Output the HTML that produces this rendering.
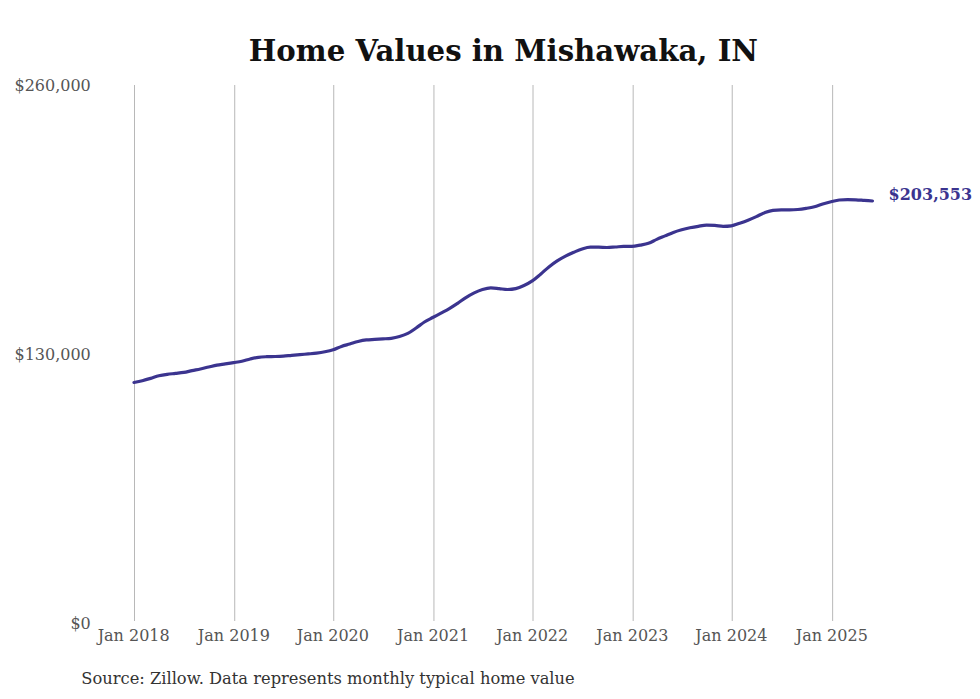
<!DOCTYPE html>
<html><head><meta charset="utf-8"><style>
html,body{margin:0;padding:0;background:#fff;width:980px;height:699px;overflow:hidden;}
svg{display:block;}
.t{font-family:"DejaVu Serif","Liberation Serif",serif;font-weight:bold;font-size:29.2px;fill:#111;}
.yl{font-family:"DejaVu Serif","Liberation Serif",serif;font-size:16px;fill:#555;}
.xl{font-family:"DejaVu Serif","Liberation Serif",serif;font-size:16px;fill:#555;}
.src{font-family:"DejaVu Serif","Liberation Serif",serif;font-size:16.3px;fill:#333;}
.val{font-family:"DejaVu Serif","Liberation Serif",serif;font-weight:bold;font-size:16px;fill:#3b348f;}
.g line{stroke:#b8b8b8;stroke-width:1;}
</style></head><body>
<svg width="980" height="699" viewBox="0 0 980 699">
<rect width="980" height="699" fill="#fff"/>
<text class="t" x="503.4" y="60.7" text-anchor="middle">Home Values in Mishawaka, IN</text>
<g class="g">
<line x1="134.50" y1="85" x2="134.50" y2="621" />
<line x1="234.73" y1="85" x2="234.73" y2="621" />
<line x1="333.74" y1="85" x2="333.74" y2="621" />
<line x1="433.94" y1="85" x2="433.94" y2="621" />
<line x1="533.00" y1="85" x2="533.00" y2="621" />
<line x1="633.17" y1="85" x2="633.17" y2="621" />
<line x1="732.23" y1="85" x2="732.23" y2="621" />
<line x1="832.63" y1="85" x2="832.63" y2="621" />
</g>
<g class="yl" text-anchor="end">
<text x="90.8" y="90.9">$260,000</text>
<text x="90.8" y="360.1">$130,000</text>
<text x="90.8" y="629.1">$0</text>
</g>
<g class="xl" text-anchor="middle">
<text x="133.7" y="640.6">Jan 2018</text>
<text x="233.9" y="640.6">Jan 2019</text>
<text x="332.9" y="640.6">Jan 2020</text>
<text x="433.1" y="640.6">Jan 2021</text>
<text x="532.2" y="640.6">Jan 2022</text>
<text x="632.4" y="640.6">Jan 2023</text>
<text x="731.4" y="640.6">Jan 2024</text>
<text x="831.8" y="640.6">Jan 2025</text>
</g>
<path d="M134.00,382.50C136.77,381.94 139.53,381.38 142.30,380.70C145.06,380.02 147.83,379.22 150.60,378.40C153.36,377.58 156.13,376.48 158.89,375.80C161.66,375.12 164.43,374.70 167.19,374.30C169.96,373.90 172.72,373.72 175.49,373.40C178.25,373.08 181.02,372.87 183.79,372.40C186.55,371.93 189.32,371.17 192.08,370.60C194.85,370.03 197.62,369.60 200.38,369.00C203.15,368.40 205.91,367.65 208.68,367.00C211.45,366.35 214.21,365.62 216.98,365.10C219.74,364.58 222.51,364.32 225.28,363.90C228.04,363.48 230.81,363.05 233.57,362.60C236.34,362.15 239.10,361.80 241.87,361.20C244.64,360.60 247.40,359.65 250.17,359.00C252.93,358.35 255.70,357.68 258.47,357.30C261.23,356.92 264.00,356.83 266.76,356.70C269.53,356.57 272.30,356.60 275.06,356.50C277.83,356.40 280.59,356.30 283.36,356.10C286.13,355.90 288.89,355.55 291.66,355.30C294.42,355.05 297.19,354.83 299.96,354.60C302.72,354.37 305.49,354.15 308.25,353.90C311.02,353.65 313.78,353.45 316.55,353.10C319.32,352.75 322.08,352.35 324.85,351.80C327.61,351.25 330.38,350.70 333.15,349.80C335.91,348.90 338.68,347.37 341.44,346.40C344.21,345.43 346.98,344.82 349.74,344.00C352.51,343.18 355.27,342.18 358.04,341.50C360.81,340.82 363.57,340.23 366.34,339.90C369.10,339.57 371.87,339.57 374.63,339.40C377.40,339.23 380.17,339.08 382.93,338.90C385.70,338.72 388.46,338.70 391.23,338.30C394.00,337.90 396.76,337.32 399.53,336.50C402.29,335.68 405.06,334.82 407.83,333.40C410.59,331.98 413.36,329.90 416.12,328.00C418.89,326.10 421.66,323.75 424.42,322.00C427.19,320.25 429.95,318.98 432.72,317.50C435.49,316.02 438.25,314.58 441.02,313.10C443.78,311.62 446.55,310.23 449.31,308.60C452.08,306.97 454.85,305.13 457.61,303.30C460.38,301.47 463.14,299.33 465.91,297.60C468.68,295.87 471.44,294.25 474.21,292.90C476.97,291.55 479.74,290.33 482.51,289.50C485.27,288.67 488.04,287.90 490.80,287.90C493.57,287.90 496.34,288.33 499.10,288.60C501.87,288.87 504.63,289.50 507.40,289.50C510.16,289.50 512.93,289.20 515.70,288.60C518.46,288.00 521.23,286.78 523.99,285.50C526.76,284.22 529.53,282.78 532.29,280.90C535.06,279.02 537.82,276.53 540.59,274.20C543.36,271.87 546.12,269.12 548.89,266.90C551.65,264.68 554.42,262.70 557.19,260.90C559.95,259.10 562.72,257.53 565.48,256.10C568.25,254.67 571.01,253.48 573.78,252.30C576.55,251.12 579.31,249.85 582.08,249.00C584.84,248.15 587.61,247.20 590.38,247.20C593.14,247.20 595.91,247.20 598.67,247.20C601.44,247.20 604.21,247.50 606.97,247.50C609.74,247.50 612.50,247.18 615.27,247.00C618.04,246.82 620.80,246.47 623.57,246.40C626.33,246.33 629.10,246.37 631.87,246.30C634.63,246.23 637.40,245.60 640.16,245.10C642.93,244.60 645.69,244.25 648.46,243.30C651.23,242.35 653.99,240.63 656.76,239.40C659.52,238.17 662.29,237.07 665.06,235.90C667.82,234.73 670.59,233.42 673.35,232.40C676.12,231.38 678.89,230.57 681.65,229.80C684.42,229.03 687.18,228.38 689.95,227.80C692.72,227.22 695.48,226.73 698.25,226.30C701.01,225.87 703.78,225.20 706.54,225.20C709.31,225.20 712.08,225.27 714.84,225.40C717.61,225.53 720.37,226.30 723.14,226.30C725.91,226.30 728.67,226.13 731.44,225.80C734.20,225.47 736.97,224.13 739.74,223.20C742.50,222.27 745.27,221.30 748.03,220.20C750.80,219.10 753.57,217.85 756.33,216.60C759.10,215.35 761.86,213.75 764.63,212.70C767.40,211.65 770.16,210.57 772.93,210.30C775.69,210.03 778.46,209.90 781.22,209.90C783.99,209.90 786.76,209.90 789.52,209.90C792.29,209.90 795.05,209.75 797.82,209.50C800.59,209.25 803.35,208.85 806.12,208.40C808.88,207.95 811.65,207.53 814.42,206.80C817.18,206.07 819.95,204.83 822.71,204.00C825.48,203.17 828.25,202.47 831.01,201.80C833.78,201.13 836.54,200.27 839.31,200.00C842.07,199.73 844.84,199.60 847.61,199.60C850.37,199.60 853.14,199.67 855.90,199.80C858.67,199.93 861.44,200.20 864.20,200.40C866.97,200.60 869.73,200.80 872.50,201.00" fill="none" stroke="#3b348f" stroke-width="3.2" stroke-linejoin="round" stroke-linecap="round"/>
<text class="val" x="888.6" y="199.6">$203,553</text>
<text class="src" x="81.3" y="683.9">Source: Zillow. Data represents monthly typical home value</text>
</svg>
</body></html>
